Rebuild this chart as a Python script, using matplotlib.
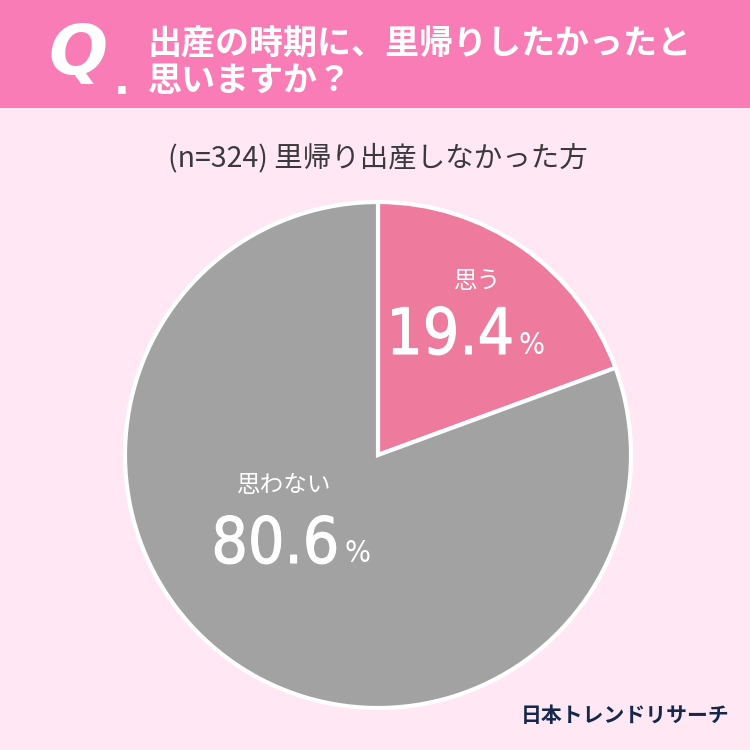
import matplotlib
matplotlib.use("Agg")
import matplotlib.pyplot as plt
import matplotlib.patheffects as pe
from matplotlib.patches import Rectangle

# ── Data ──────────────────────────────────────────────────────────────────────
labels = ["思う", "思わない"]
values = [19.4, 80.6]
colors = ["#EE7B9E", "#A2A2A2"]

TITLE_1 = "出産の時期に、里帰りしたかったと"
TITLE_2 = "思いますか？"
SUBTITLE = "(n=324) 里帰り出産しなかった方"
BRAND = "日本トレンドリサーチ"

BG = "#FFE8F4"
HEADER = "#FA7CB6"
JP = ["Noto Sans CJK JP", "DejaVu Sans"]

fig = plt.figure(figsize=(7.5, 7.5), dpi=100)
fig.patch.set_facecolor(BG)

# ── Pie ───────────────────────────────────────────────────────────────────────
cx, cy, r = 378, 455, 253
pax = fig.add_axes([(cx - r) / 750, (750 - cy - r) / 750, 2 * r / 750, 2 * r / 750])
pax.pie(values, colors=colors, startangle=90, counterclock=False, radius=1,
        wedgeprops=dict(edgecolor="white", linewidth=3))
pax.set_xlim(-1, 1)
pax.set_ylim(-1, 1)
pax.set_aspect("equal")
pax.axis("off")

# overlay axes in pixel coordinates
bg = fig.add_axes([0, 0, 1, 1])
bg.set_xlim(0, 750)
bg.set_ylim(750, 0)
bg.axis("off")
bg.patch.set_alpha(0)
bg.add_patch(Rectangle((0, 0), 750, 108, facecolor=HEADER, edgecolor="none"))

bg.text(78, 55, "Q", fontsize=50, color="white", fontweight="bold",
        style="italic", ha="center", va="center", family=["DejaVu Sans"])
bg.text(122, 82, ".", fontsize=30, color="white", fontweight="bold",
        ha="center", va="center")
bg.text(148, 44, TITLE_1, fontsize=24.5, color="white", fontweight="bold",
        ha="left", va="center", family=JP)
bg.text(148, 80, TITLE_2, fontsize=24.5, color="white", fontweight="bold",
        ha="left", va="center", family=JP)

bg.text(378, 158, SUBTITLE, fontsize=20.5, color="#3A3A3A",
        ha="center", va="center", family=JP)

bg.text(625, 716, BRAND, fontsize=15, color="#14284A", fontweight="bold",
        ha="center", va="center", family=JP)

# ── Slice labels ──────────────────────────────────────────────────────────────
thick = [pe.withStroke(linewidth=0.8, foreground="white")]
label_pos = [(477, 282, 514, 336), (284, 485, 339, 545)]
for lab, val, (lx, ly, nx, ny) in zip(labels, values, label_pos):
    bg.text(lx, ly, lab, fontsize=17, color="white", ha="center", va="center",
            family=JP)
    bg.text(nx, ny, f"{val:.1f}", fontsize=46, color="white",
            ha="right", va="center", family="DejaVu Sans", stretch="condensed",
            path_effects=thick)
    bg.text(nx + 5, ny + 9, "%", fontsize=22, color="white",
            ha="left", va="center", family="DejaVu Sans", stretch="condensed")

fig.savefig("out.png", dpi=100, facecolor=BG)
